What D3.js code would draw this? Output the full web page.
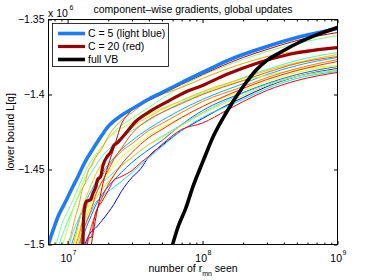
<!DOCTYPE html>
<html><head><meta charset="utf-8">
<script src="https://cdn.jsdelivr.net/npm/d3@7"></script>
<style>
body{margin:0;background:#fff}
svg{display:block}
text{font-family:"Liberation Sans",Arial,sans-serif;fill:#000}
</style>
</head><body><svg id="c" width="373" height="280"></svg>
<script>
// ---------------- data ----------------
const titleText = "component\u2013wise gradients, global updates";
const yLabelText = "lower bound L[q]";
const xTickValues = [1e7, 1e8, 1e9];
const xTickExponents = ["7", "8", "9"];
const yTickValues = [-1.5, -1.45, -1.4, -1.35];
const yTickLabels = ["\u22121.5", "\u22121.45", "\u22121.4", "\u22121.35"];
const legendLabels = ["C = 5 (light blue)", "C = 20 (red)", "full VB"];

// thick curves  [number of r_mn seen, lower bound (x 10^6)]
const seriesC5 = [[7.2e6,-1.5],[7.5e6,-1.495],[8e6,-1.4877],[8.5e6,-1.4813],[9e6,-1.4767],[9.5e6,-1.4727],[1e7,-1.4687],[1.1e7,-1.461],[1.2e7,-1.4543],[1.3e7,-1.4477],[1.4e7,-1.4423],[1.5e7,-1.438],[1.6e7,-1.434],[1.8e7,-1.427],[2e7,-1.4213],[2.5e7,-1.414],[3e7,-1.4097],[4e7,-1.403],[5e7,-1.3987],[7e7,-1.392],[1e8,-1.3853],[1.5e8,-1.3777],[2e8,-1.3733],[3e8,-1.368],[5e8,-1.362],[7e8,-1.359],[1e9,-1.356]];
const seriesC20 = [[1.3e7,-1.5],[1.31e7,-1.4853],[1.34e7,-1.4747],[1.38e7,-1.4713],[1.49e7,-1.47],[1.53e7,-1.4667],[1.62e7,-1.4613],[1.67e7,-1.4567],[1.76e7,-1.4547],[1.82e7,-1.448],[1.97e7,-1.4413],[2.08e7,-1.4387],[2.2e7,-1.434],[2.35e7,-1.432],[2.65e7,-1.4267],[3.2e7,-1.418],[4e7,-1.4117],[5.5e7,-1.4047],[7.5e7,-1.3983],[1e8,-1.394],[1.5e8,-1.3867],[2.5e8,-1.3793],[4.5e8,-1.373],[1e9,-1.3687]];
const seriesFullVB = [[6e7,-1.5],[6.6e7,-1.488],[7.5e7,-1.476],[8.5e7,-1.4613],[1e8,-1.4453],[1.2e8,-1.428],[1.5e8,-1.412],[2e8,-1.3947],[2.5e8,-1.3837],[3e8,-1.3773],[4e8,-1.3707],[5e8,-1.366],[7e8,-1.3603],[1e9,-1.3553]];

// thin curves (other C values)
const runA = [[1.5e7,-1.5],[1.6e7,-1.4847],[1.75e7,-1.4673],[1.85e7,-1.4573],[1.95e7,-1.4507],[2.05e7,-1.444],[2.2e7,-1.436],[2.35e7,-1.4273],[2.5e7,-1.42],[2.8e7,-1.4133],[3.3e7,-1.4073],[4e7,-1.404],[5e7,-1.3997],[7e7,-1.3933],[1e8,-1.3867],[2e8,-1.3753],[3e8,-1.37],[5e8,-1.364],[1e9,-1.3587]];
const runB = [[8.2e6,-1.5],[8.5e6,-1.4953],[9e6,-1.4873],[9.5e6,-1.482],[1e7,-1.478],[1.1e7,-1.47],[1.2e7,-1.462],[1.3e7,-1.4547],[1.4e7,-1.4487],[1.5e7,-1.444],[1.6e7,-1.4407],[1.8e7,-1.4347],[2e7,-1.4293],[2.5e7,-1.4207],[3e7,-1.416],[4e7,-1.4087],[5e7,-1.4027],[7e7,-1.3947],[1e8,-1.3873],[2e8,-1.3767],[3e8,-1.3713],[5e8,-1.366],[1e9,-1.3607]];
const runL = [[8.7e6,-1.5],[9e6,-1.4953],[9.5e6,-1.49],[1e7,-1.4847],[1.1e7,-1.476],[1.2e7,-1.468],[1.3e7,-1.462],[1.4e7,-1.4567],[1.6e7,-1.448],[1.8e7,-1.4413],[2e7,-1.4367],[2.5e7,-1.4293],[3e7,-1.424],[4e7,-1.4173],[5e7,-1.412],[7e7,-1.4053],[1e8,-1.3993],[2e8,-1.3887],[3e8,-1.3833],[5e8,-1.3773],[1e9,-1.372]];
const runG = [[9.2e6,-1.5],[9.5e6,-1.496],[1e7,-1.4893],[1.1e7,-1.4767],[1.2e7,-1.4673],[1.3e7,-1.4587],[1.4e7,-1.4527],[1.5e7,-1.4467],[1.6e7,-1.442],[1.8e7,-1.4347],[2e7,-1.4293],[2.5e7,-1.4227],[3e7,-1.4187],[4e7,-1.4133],[5e7,-1.4093],[7e7,-1.404],[1e8,-1.3987],[2e8,-1.3907],[3e8,-1.3873],[5e8,-1.3833],[1e9,-1.3807]];
const runC = [[1e7,-1.5],[1.05e7,-1.4947],[1.1e7,-1.4873],[1.15e7,-1.4807],[1.2e7,-1.4753],[1.3e7,-1.462],[1.35e7,-1.4593],[1.4e7,-1.4527],[1.45e7,-1.4493],[1.5e7,-1.448],[1.6e7,-1.4427],[1.8e7,-1.436],[2e7,-1.428],[2.5e7,-1.4173],[3e7,-1.412],[4e7,-1.404],[5e7,-1.4],[7e7,-1.3953],[1e8,-1.3893],[2e8,-1.3793],[3e8,-1.3747],[5e8,-1.3713],[1e9,-1.3687]];
const runD = [[1.07e7,-1.5],[1.15e7,-1.4913],[1.2e7,-1.4853],[1.3e7,-1.4767],[1.4e7,-1.4693],[1.5e7,-1.464],[1.6e7,-1.4593],[1.8e7,-1.452],[2e7,-1.4467],[2.5e7,-1.4367],[3e7,-1.4307],[4e7,-1.4227],[5e7,-1.4173],[7e7,-1.41],[1e8,-1.4033],[2e8,-1.3927],[3e8,-1.3867],[5e8,-1.3807],[1e9,-1.3753]];
const runN = [[1.1e7,-1.5],[1.2e7,-1.4873],[1.3e7,-1.4747],[1.4e7,-1.4667],[1.5e7,-1.46],[1.6e7,-1.454],[1.8e7,-1.446],[2e7,-1.44],[2.5e7,-1.4287],[3e7,-1.422],[4e7,-1.4147],[5e7,-1.41],[7e7,-1.404],[1e8,-1.398],[2e8,-1.3893],[3e8,-1.384],[5e8,-1.3787],[1e9,-1.3733]];
const runF = [[1.13e7,-1.5],[1.2e7,-1.492],[1.3e7,-1.484],[1.4e7,-1.4773],[1.5e7,-1.4713],[1.6e7,-1.4667],[1.8e7,-1.4587],[2e7,-1.4527],[2.5e7,-1.442],[3e7,-1.436],[4e7,-1.4273],[5e7,-1.422],[7e7,-1.4153],[1e8,-1.408],[2e8,-1.3973],[3e8,-1.3913],[5e8,-1.3853],[1e9,-1.3807]];
const runM = [[1.15e7,-1.5],[1.2e7,-1.4953],[1.3e7,-1.4833],[1.4e7,-1.4733],[1.5e7,-1.4673],[1.6e7,-1.462],[1.8e7,-1.454],[2e7,-1.448],[2.5e7,-1.438],[3e7,-1.4327],[4e7,-1.424],[5e7,-1.4193],[7e7,-1.412],[1e8,-1.4047],[2e8,-1.3947],[3e8,-1.3887],[5e8,-1.3827],[1e9,-1.3767]];
const runI = [[1.19e7,-1.5],[1.3e7,-1.4873],[1.4e7,-1.48],[1.5e7,-1.4747],[1.6e7,-1.47],[1.8e7,-1.4633],[2e7,-1.458],[2.5e7,-1.448],[3e7,-1.442],[4e7,-1.4333],[5e7,-1.4287],[7e7,-1.4207],[1e8,-1.4127],[2e8,-1.4007],[3e8,-1.394],[5e8,-1.388],[1e9,-1.3833]];
const runO = [[1.26e7,-1.5],[1.35e7,-1.4907],[1.5e7,-1.4807],[1.6e7,-1.4747],[1.8e7,-1.4667],[2e7,-1.4613],[2.5e7,-1.452],[3e7,-1.4453],[4e7,-1.4367],[5e7,-1.4307],[7e7,-1.42],[1e8,-1.4107],[2e8,-1.3987],[3e8,-1.3927],[5e8,-1.3867],[1e9,-1.3813]];
const runH = [[1.34e7,-1.5],[1.5e7,-1.4913],[1.6e7,-1.4893],[1.8e7,-1.484],[2e7,-1.4787],[2.2e7,-1.4733],[2.5e7,-1.4647],[3e7,-1.4553],[3.5e7,-1.4493],[4e7,-1.4413],[5e7,-1.434],[7e7,-1.424],[1e8,-1.416],[1.5e8,-1.4073],[2e8,-1.402],[3e8,-1.3947],[5e8,-1.388],[1e9,-1.3827]];
const runK = [[1.4e7,-1.5],[1.45e7,-1.4953],[1.5e7,-1.4953],[1.55e7,-1.4867],[1.6e7,-1.48],[1.8e7,-1.4713],[2e7,-1.464],[2.2e7,-1.4573],[2.5e7,-1.4547],[3e7,-1.4507],[3.5e7,-1.4453],[4e7,-1.4413],[5e7,-1.4333],[7e7,-1.4233],[1e8,-1.419],[1.5e8,-1.4107],[2e8,-1.4047],[3e8,-1.3973],[5e8,-1.3907],[1e9,-1.3853]];
const runJ = [[1.21e7,-1.5],[1.3e7,-1.4913],[1.4e7,-1.484],[1.5e7,-1.478],[1.6e7,-1.4727],[1.8e7,-1.468],[2e7,-1.4647],[2.5e7,-1.458],[3e7,-1.452],[4e7,-1.442],[5e7,-1.4347],[7e7,-1.424],[1e8,-1.4153],[2e8,-1.4033],[3e8,-1.396],[5e8,-1.3893],[1e9,-1.3847]];
const runE = [[1.38e7,-1.5],[1.45e7,-1.4927],[1.55e7,-1.484],[1.7e7,-1.474],[1.8e7,-1.4687],[2e7,-1.46],[2.2e7,-1.454],[2.5e7,-1.4467],[3e7,-1.4387],[4e7,-1.4287],[5e7,-1.4233],[7e7,-1.4153],[1e8,-1.408],[2e8,-1.396],[3e8,-1.39],[5e8,-1.384],[1e9,-1.378]];
const runP = [[1.23e7,-1.5],[1.3e7,-1.4913],[1.4e7,-1.4833],[1.5e7,-1.4767],[1.6e7,-1.468],[1.8e7,-1.458],[2e7,-1.4507],[2.2e7,-1.4433],[2.5e7,-1.436],[3e7,-1.426],[4e7,-1.4167],[5e7,-1.412],[7e7,-1.406],[1e8,-1.4],[2e8,-1.3907],[3e8,-1.3853],[5e8,-1.3793],[1e9,-1.3747]];
const runQ = [[1.03e7,-1.5],[1.1e7,-1.4913],[1.2e7,-1.4833],[1.3e7,-1.476],[1.4e7,-1.4713],[1.6e7,-1.4633],[1.8e7,-1.4587],[2e7,-1.4553],[2.5e7,-1.4473],[3e7,-1.442],[4e7,-1.4333],[5e7,-1.428],[7e7,-1.42],[1e8,-1.412],[2e8,-1.3993],[3e8,-1.3933],[5e8,-1.388],[1e9,-1.384]];

const thinSeries = [runH, runO, runJ, runQ, runD, runL, runB, runG, runF, runI, runN, runC, runM, runP, runE, runK, runA];
const thinColors = ["#0000ff", "#0070ff", "#00e8ff", "#40e0ff", "#00b0ff", "#40ffb0", "#80ff80", "#c0ff40", "#ffff00", "#f0e000", "#ffc000", "#ff9c00", "#ff7800", "#ff5000", "#ff2800", "#ff0000", "#c80000"];

// ---------------- drawing ----------------
const W = 373, H = 280;
const m = {l: 48.5, r: 337.5, t: 19.5, b: 244.5};
const svg = d3.select("#c");
svg.append("rect").attr("width", W).attr("height", H).attr("fill", "#fff");

const x = d3.scaleLog().domain([7.22e6, 1e9]).range([m.l, m.r]);
const y = d3.scaleLinear().domain([-1.5, -1.35]).range([m.b, m.t]);

svg.append("clipPath").attr("id", "clip").append("rect")
  .attr("x", m.l).attr("y", m.t).attr("width", m.r - m.l).attr("height", m.b - m.t);

const line = d3.line().x(d => x(d[0])).y(d => y(d[1])).curve(d3.curveMonotoneX);
const plot = svg.append("g").attr("clip-path", "url(#clip)");

thinSeries.forEach((s, i) => {
  plot.append("path").attr("d", line(s)).attr("fill", "none")
    .attr("stroke", thinColors[i]).attr("stroke-width", 1).attr("stroke-linejoin", "round");
});
const thick = [[seriesC20, "#990000", 3.2], [seriesC5, "#1a7cff", 3.6], [seriesFullVB, "#000000", 3.6]];
thick.forEach(([s, c, w]) => {
  plot.append("path").attr("d", line(s)).attr("fill", "none")
    .attr("stroke", c).attr("stroke-width", w).attr("stroke-linejoin", "round");
});

// minor log ticks
const xMinor = [];
[6, 7, 8].forEach(k => { for (let j = 2; j <= 9; j++) { const v = j * Math.pow(10, k); if (v > 7.22e6 && v < 1e9) xMinor.push(v); } });

function styleAxis(g) {
  g.select(".domain").remove();
  g.selectAll("line").attr("stroke", "#000");
  g.attr("font-family", "Liberation Sans, Arial, sans-serif").attr("font-size", 10.5);
}
const major = 3.5, minor = 2;
svg.append("g").attr("transform", `translate(0,${m.b})`).call(d3.axisBottom(x).tickValues(xMinor).tickSize(-minor).tickFormat("")).call(styleAxis);
svg.append("g").attr("transform", `translate(0,${m.t})`).call(d3.axisTop(x).tickValues(xMinor).tickSize(-minor).tickFormat("")).call(styleAxis);
svg.append("g").attr("transform", `translate(0,${m.t})`).call(d3.axisTop(x).tickValues(xTickValues).tickSize(-major).tickFormat("")).call(styleAxis);
const xAx = svg.append("g").attr("transform", `translate(0,${m.b})`)
  .call(d3.axisBottom(x).tickValues(xTickValues).tickSize(-major).tickFormat("")).call(styleAxis);
xAx.selectAll(".tick").each(function(d, i) {
  const t = d3.select(this);
  t.append("text").attr("x", 4).attr("y", 17).attr("text-anchor", "end").attr("font-size", 10.5).text("10");
  t.append("text").attr("x", 4.5).attr("y", 10.5).attr("text-anchor", "start").attr("font-size", 7).text(xTickExponents[i]);
});
svg.append("g").attr("transform", `translate(${m.l},0)`)
  .call(d3.axisLeft(y).tickValues(yTickValues).tickSize(-major).tickPadding(4).tickFormat((d, i) => yTickLabels[i]))
  .call(styleAxis);
svg.append("g").attr("transform", `translate(${m.r},0)`)
  .call(d3.axisRight(y).tickValues(yTickValues).tickSize(-major).tickFormat("")).call(styleAxis);

// box
svg.append("rect").attr("x", m.l).attr("y", m.t).attr("width", m.r - m.l).attr("height", m.b - m.t)
  .attr("fill", "none").attr("stroke", "#000").attr("stroke-width", 1);

// exponent label
svg.append("text").attr("x", 48).attr("y", 16.5).attr("font-size", 10.5).text("x 10");
svg.append("text").attr("x", 69.5).attr("y", 10).attr("font-size", 7).text("6");

// title
svg.append("text").attr("x", (m.l + m.r) / 2).attr("y", 13).attr("text-anchor", "middle").attr("font-size", 10.5).text(titleText);

// x label with subscript
const xl = svg.append("text").attr("x", (m.l + m.r) / 2).attr("y", 272).attr("text-anchor", "middle").attr("font-size", 10.5);
xl.append("tspan").text("number of r");
xl.append("tspan").attr("font-size", 7).attr("dy", 4).text("mn");
xl.append("tspan").attr("dy", -4).text(" seen");

// y label
svg.append("text").attr("transform", `translate(14,${(m.t + m.b) / 2}) rotate(-90)`)
  .attr("text-anchor", "middle").attr("font-size", 10.5).text(yLabelText);

// legend
const lg = svg.append("g");
lg.append("rect").attr("x", 52.5).attr("y", 23.5).attr("width", 116).attr("height", 43)
  .attr("fill", "#fff").attr("stroke", "#000").attr("stroke-width", 0.8);
thick.slice().sort((a, b) => 0).forEach(() => {});
const legendStyles = [["#1a7cff", 3.6], ["#990000", 3.2], ["#000000", 3.6]];
legendLabels.forEach((lab, i) => {
  const yy = 33.5 + i * 13;
  lg.append("line").attr("x1", 58).attr("x2", 85).attr("y1", yy).attr("y2", yy)
    .attr("stroke", legendStyles[i][0]).attr("stroke-width", legendStyles[i][1]);
  lg.append("text").attr("x", 88).attr("y", yy + 3.8).attr("font-size", 10.5).text(lab);
});
</script>
</body></html>
